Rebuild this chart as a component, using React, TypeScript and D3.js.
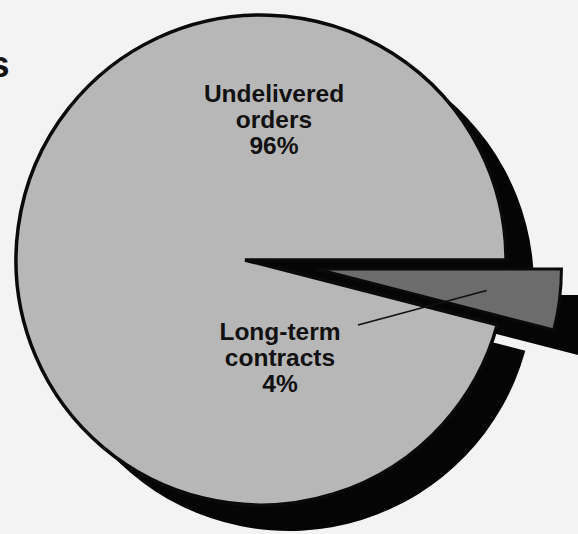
import React from "react";
import * as d3 from "d3";

const categories = ["Long-term contracts", "Undelivered orders"];
const labelLines = [["Long-term", "contracts"], ["Undelivered", "orders"]];
const shares = [4, 96];

const W = 578;
const H = 534;

export default function App() {
  const pie = d3
    .pie<number>()
    .sort(null)
    .startAngle(Math.PI / 2)
    .endAngle(Math.PI / 2 + 2 * Math.PI);
  const arcs = pie(shares);
  const small = arcs[0];
  const big = arcs[1];

  const C: [number, number] = [261, 260];
  const R = 245;
  const A: [number, number] = [245, 260];
  const explode = 72;
  const shadow: [number, number] = [28, 26];

  const dir = (a: number): [number, number] => [Math.sin(a), -Math.cos(a)];
  const hit = (a: number): [number, number] => {
    const d = dir(a);
    const wx = A[0] - C[0];
    const wy = A[1] - C[1];
    const b = wx * d[0] + wy * d[1];
    const t = -b + Math.sqrt(b * b - (wx * wx + wy * wy) + R * R);
    return [A[0] + t * d[0], A[1] + t * d[1]];
  };

  const P0 = hit(big.startAngle);
  const P1 = hit(small.startAngle);
  const th0 = Math.atan2(P0[1] - C[1], P0[0] - C[0]);
  let th1 = Math.atan2(P1[1] - C[1], P1[0] - C[0]);
  while (th1 <= th0) th1 += 2 * Math.PI;

  const bp = d3.path();
  bp.moveTo(A[0], A[1]);
  bp.lineTo(P0[0], P0[1]);
  bp.arc(C[0], C[1], R, th0, th1, false);
  bp.closePath();
  const bigPath = bp.toString();

  const gp = d3.path();
  const th1b = Math.atan2(P1[1] - C[1], P1[0] - C[0]);
  let th0b = th0;
  while (th0b <= th1b) th0b += 2 * Math.PI;
  gp.moveTo(A[0], A[1]);
  gp.lineTo(P1[0], P1[1]);
  gp.arc(C[0], C[1], R, th1b, th0b, false);
  gp.closePath();
  const gapPath = gp.toString();

  const mid = (small.startAngle + small.endAngle) / 2;
  const md = dir(mid);
  const E: [number, number] = [A[0] + explode * md[0], A[1] + explode * md[1]];
  const arcGen = d3.arc<d3.PieArcDatum<number>>().innerRadius(0).outerRadius(R);
  const smallPath = arcGen(small) || "";

  const leaderEnd: [number, number] = [E[0] + 0.7 * R * md[0], E[1] + 0.7 * R * md[1]];

  const font = "'Liberation Sans', Arial, Helvetica, sans-serif";
  const fs = 24.5;
  const lh = 26;

  return (
    <svg
      width={W}
      height={H}
      style={{ position: "absolute", left: 0, top: 0 }}
      viewBox={`0 0 ${W} ${H}`}
    >
      <rect x={0} y={0} width={W} height={H} fill="#f3f3f3" />
      <text
        x={9.5}
        y={77}
        textAnchor="end"
        fontFamily={font}
        fontWeight="bold"
        fontSize={37}
        fill="#111"
      >
        s
      </text>
      {/* shadows */}
      <g transform={`translate(${shadow[0]},${shadow[1]})`}>
        <path d={bigPath} fill="#050505" />
        <path d={smallPath} transform={`translate(${E[0]},${E[1]})`} fill="#050505" />
      </g>
      {/* gap side wall */}
      <path d={gapPath} fill="#050505" />
      {/* main slice */}
      <path d={bigPath} fill="#b7b7b7" stroke="#0a0a0a" strokeWidth={3.5} strokeLinejoin="miter" />
      {/* exploded slice */}
      <path
        d={smallPath}
        transform={`translate(${E[0]},${E[1]})`}
        fill="#6c6c6c"
        stroke="#0a0a0a"
        strokeWidth={3}
      />
      {/* leader */}
      <line
        x1={358}
        y1={325}
        x2={leaderEnd[0]}
        y2={leaderEnd[1]}
        stroke="#111"
        strokeWidth={1.6}
      />
      {/* labels */}
      <g fontFamily={font} fontWeight="bold" fontSize={fs} fill="#111" textAnchor="middle">
        <text x={274} y={102}>
          <tspan x={274} y={102}>{labelLines[1][0]}</tspan>
          <tspan x={274} y={102 + lh}>{labelLines[1][1]}</tspan>
          <tspan x={274} y={102 + 2 * lh}>{`${shares[1]}%`}</tspan>
        </text>
        <text x={280} y={339.5}>
          <tspan x={280} y={339.5}>{labelLines[0][0]}</tspan>
          <tspan x={280} y={339.5 + lh}>{labelLines[0][1]}</tspan>
          <tspan x={280} y={339.5 + 2 * lh}>{`${shares[0]}%`}</tspan>
        </text>
      </g>
      <title>{categories.join(", ")}</title>
    </svg>
  );
}
